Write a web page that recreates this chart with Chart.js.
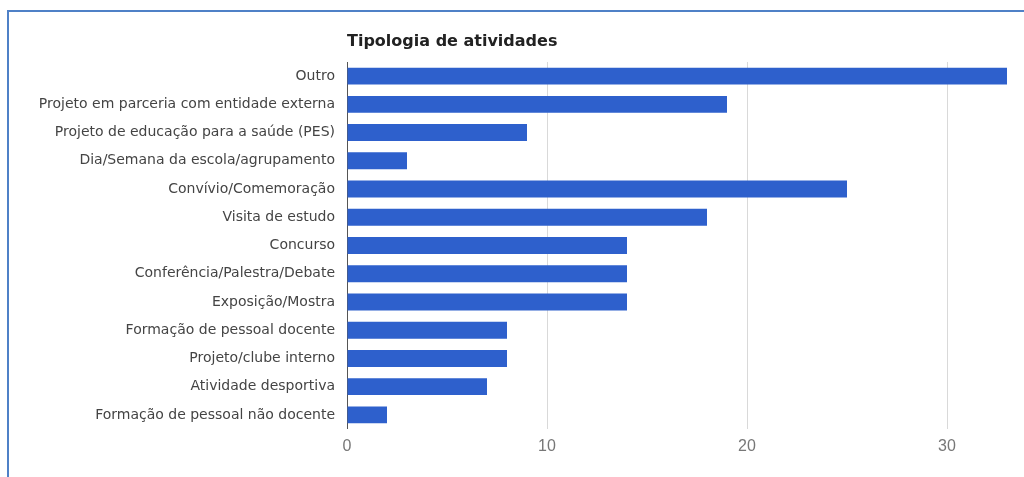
<!DOCTYPE html>
<html>
<head>
<meta charset="utf-8">
<script src="https://cdn.jsdelivr.net/npm/chart.js@4.4.1/dist/chart.umd.min.js"></script>
<style>
  html, body { margin: 0; padding: 0; background: #fff; overflow: hidden; }
  #wrap { position: relative; width: 1024px; height: 477px; }
  #frame { position: absolute; left: 7px; top: 10px; width: 1100px; height: 600px;
           border-left: 2px solid #4f81c7; border-top: 2px solid #4f81c7; }
  canvas { position: absolute; left: 0; top: 0; }
</style>
</head>
<body>
<div id="wrap">
  <div id="frame"></div>
  <canvas id="barChart" width="1024" height="477"></canvas>
</div>
<script>
var chartTitle = "Tipologia de atividades";

var categories = [
    "Outro",
    "Projeto em parceria com entidade externa",
    "Projeto de educação para a saúde (PES)",
    "Dia/Semana da escola/agrupamento",
    "Convívio/Comemoração",
    "Visita de estudo",
    "Concurso",
    "Conferência/Palestra/Debate",
    "Exposição/Mostra",
    "Formação de pessoal docente",
    "Projeto/clube interno",
    "Atividade desportiva",
    "Formação de pessoal não docente"
];

var counts = [33, 19, 9, 3, 25, 18, 14, 14, 14, 8, 8, 7, 2];

var xTicks = [0, 10, 20, 30];

// titulo alinhado com a area do grafico
var titlePlugin = {
    id: 'leftTitle',
    afterDraw: function (chart) {
        var c = chart.ctx;
        c.save();
        c.font = 'bold 16px "DejaVu Sans", sans-serif';
        c.fillStyle = '#222';
        c.textBaseline = 'middle';
        c.fillText(chartTitle, chart.chartArea.left, 42);
        c.restore();
    }
};

var barData = {
    labels: categories,
    datasets: [{
        data: counts,
        backgroundColor: "#2e60cc",
        barPercentage: 0.6,
        categoryPercentage: 1.0
    }]
};

var barOptions = {
    indexAxis: 'y',
    responsive: false,
    animation: false,
    layout: {
        padding: { top: 62, right: 17, left: 0, bottom: 0 }
    },
    plugins: {
        legend: { display: false },
        tooltip: { enabled: false }
    },
    scales: {
        x: {
            min: 0,
            max: 33,
            afterBuildTicks: function (scale) {
                scale.ticks = xTicks.map(function (v) { return { value: v }; });
            },
            afterFit: function (scale) { scale.height = 48; },
            grid: {
                drawTicks: false,
                color: function (ctx) {
                    return ctx.tick && ctx.tick.value === 0 ? '#555' : '#d9d9d9';
                }
            },
            border: { display: false },
            ticks: {
                padding: 8,
                color: '#777',
                font: { family: '"Liberation Sans", Arial, sans-serif', size: 16 }
            }
        },
        y: {
            afterFit: function (scale) { scale.width = 347; },
            grid: { display: false, drawTicks: false },
            border: { display: false },
            ticks: {
                padding: 12,
                color: '#444',
                font: { family: '"DejaVu Sans", sans-serif', size: 14 }
            }
        }
    }
};

var ctx = document.getElementById("barChart").getContext("2d");
new Chart(ctx, { type: 'bar', data: barData, options: barOptions, plugins: [titlePlugin] });
</script>
</body>
</html>
